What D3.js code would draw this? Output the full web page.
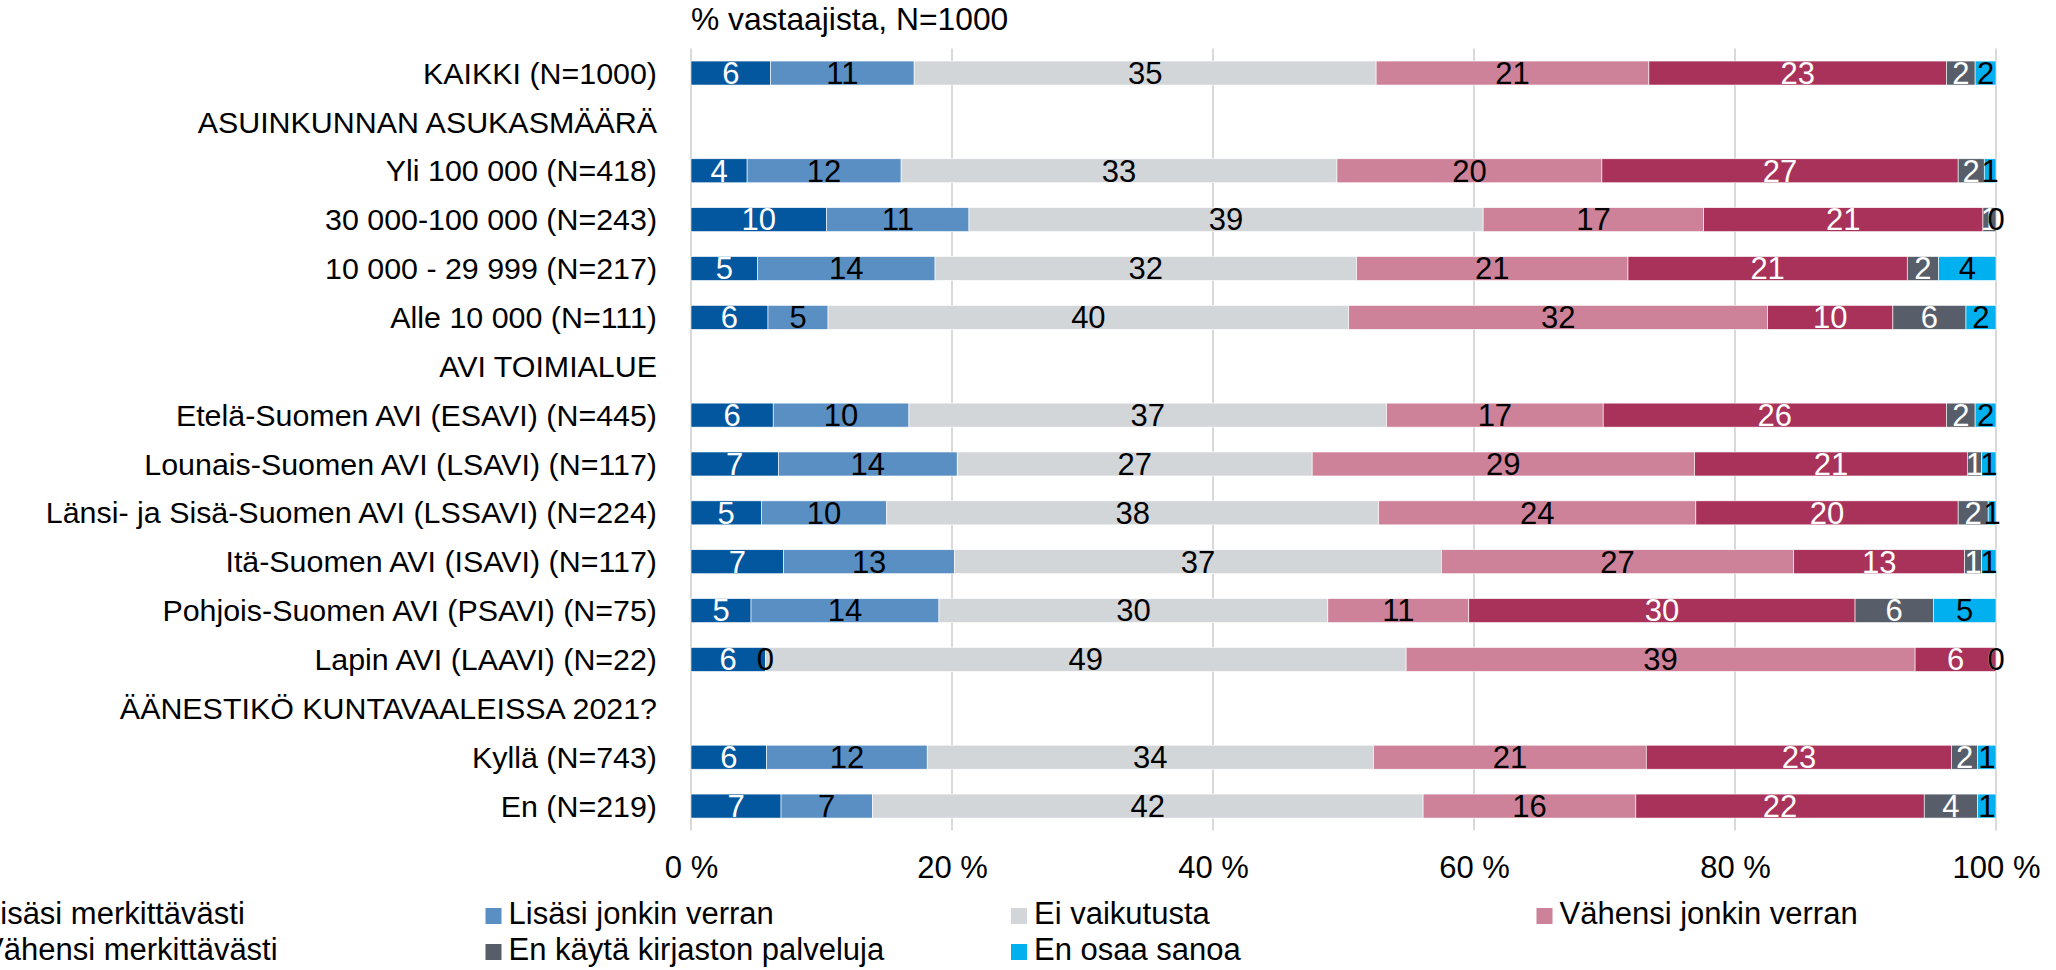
<!DOCTYPE html>
<html>
<head>
<meta charset="utf-8">
<script src="https://cdn.jsdelivr.net/npm/d3@7"></script>
<style>
  body { margin: 0; background: #fff; }
  text { font-family: "Liberation Sans", Arial, sans-serif; }
</style>
</head>
<body>
<div id="bar_chart"></div>
<script>
// rows of the chart, header rows have no data (null)
var categories = [
  "KAIKKI (N=1000)",
  "ASUINKUNNAN ASUKASMÄÄRÄ",
  "Yli 100 000 (N=418)",
  "30 000-100 000 (N=243)",
  "10 000 - 29 999 (N=217)",
  "Alle 10 000 (N=111)",
  "AVI TOIMIALUE",
  "Etelä-Suomen AVI (ESAVI) (N=445)",
  "Lounais-Suomen AVI  (LSAVI) (N=117)",
  "Länsi- ja Sisä-Suomen AVI (LSSAVI) (N=224)",
  "Itä-Suomen AVI (ISAVI)  (N=117)",
  "Pohjois-Suomen AVI (PSAVI) (N=75)",
  "Lapin AVI (LAAVI) (N=22)",
  "ÄÄNESTIKÖ KUNTAVAALEISSA 2021?",
  "Kyllä (N=743)",
  "En (N=219)"
];

var seriesNames = [
  "Lisäsi merkittävästi",
  "Lisäsi jonkin verran",
  "Ei vaikutusta",
  "Vähensi jonkin verran",
  "Vähensi merkittävästi",
  "En käytä kirjaston palveluja",
  "En osaa sanoa"
];

var lisasiMerkittavasti  = [6.1, null, 4.3, 10.4, 5.1, 5.9, null, 6.3, 6.7, 5.4, 7.1, 4.6, 5.7, null, 5.8, 6.9];
var lisasiJonkin         = [11.0, null, 11.8, 10.9, 13.6, 4.6, null, 10.4, 13.7, 9.6, 13.1, 14.4, 0, null, 12.3, 7.0];
var eiVaikutusta         = [35.4, null, 33.4, 39.4, 32.3, 39.9, null, 36.6, 27.2, 37.7, 37.3, 29.8, 49.1, null, 34.2, 42.2];
var vahensiJonkin        = [20.9, null, 20.3, 16.9, 20.8, 32.1, null, 16.6, 29.3, 24.3, 27.0, 10.8, 39.0, null, 20.9, 16.3];
var vahensiMerkittavasti = [22.8, null, 27.3, 21.4, 21.4, 9.6, null, 26.3, 20.9, 20.1, 13.1, 29.6, 6.2, null, 23.4, 22.1];
var enKayta              = [2.2, null, 2.0, 1.0, 2.4, 5.6, null, 2.2, 1.1, 2.3, 1.3, 6.0, 0, null, 2.0, 4.1];
var enOsaa               = [1.6, null, 0.9, 0, 4.4, 2.3, null, 1.6, 1.1, 0.6, 1.1, 4.8, 0, null, 1.4, 1.4];

var xTicks = [0, 20, 40, 60, 80, 100];
var titleText = "% vastaajista, N=1000";

var colors = ["#02579f", "#5a8fc4", "#d3d6d9", "#cd8299", "#a9325a", "#575e69", "#00b0ef"];
var labelColors = ["#fff", "#000", "#000", "#000", "#fff", "#fff", "#000"];

document.addEventListener('DOMContentLoaded', function() {
    generateBarChart();
}, false);

function generateBarChart() {
    var W = 2056, H = 970;
    var margin = {top: 48.6, left: 691, right: 60, bottom: 139.5};
    var width = W - margin.left - margin.right;
    var height = H - margin.top - margin.bottom;

    var svg = d3.select("#bar_chart")
      .append("svg")
        .attr("width", W)
        .attr("height", H);

    var g = svg.append("g")
        .attr("transform", "translate(" + margin.left + "," + margin.top + ")");

    // build stack input
    var allSeries = [lisasiMerkittavasti, lisasiJonkin, eiVaikutusta, vahensiJonkin,
                     vahensiMerkittavasti, enKayta, enOsaa];
    var rows = categories.map(function(c, i) {
        var r = {cat: c, empty: allSeries[0][i] === null};
        seriesNames.forEach(function(s, k) { r[s] = allSeries[k][i] || 0; });
        return r;
    });
    var stacked = d3.stack().keys(seriesNames)(rows.filter(function(r) { return !r.empty; }));

    // x
    var x = d3.scaleLinear().domain([0, 100]).range([0, width]);

    // y
    var y = d3.scaleBand()
      .domain(categories)
      .range([0, height])
      .paddingInner(0.509)
      .paddingOuter(0.2545);

    // gridlines
    g.append("g")
      .selectAll("line")
      .data(xTicks)
      .enter()
      .append("line")
        .attr("x1", function(d) { return x(d); })
        .attr("x2", function(d) { return x(d); })
        .attr("y1", 0)
        .attr("y2", height)
        .attr("stroke", "#d9d9d9")
        .attr("stroke-width", 2);

    // x axis labels
    var xAxis = g.append("g")
      .attr("transform", "translate(0," + height + ")")
      .call(d3.axisBottom(x).tickValues(xTicks).tickSize(0).tickPadding(0)
            .tickFormat(function(d) { return d + " %"; }));
    xAxis.select(".domain").remove();
    xAxis.selectAll("text")
      .attr("y", 867 - margin.top - height)
      .attr("dy", "0.35em")
      .style("font-size", "31px")
      .attr("fill", "#000");

    // category labels
    var yAxis = g.append("g")
      .call(d3.axisLeft(y).tickSize(0).tickPadding(34));
    yAxis.select(".domain").remove();
    yAxis.selectAll("text")
      .style("font-size", "30.4px")
      .attr("dy", "0.35em")
      .attr("fill", "#000");

    // bars
    var layers = g.selectAll(".layer")
      .data(stacked)
      .enter()
      .append("g")
        .attr("class", "layer")
        .attr("fill", function(d, i) { return colors[i]; });

    layers.selectAll("rect")
      .data(function(d) { return d; })
      .enter()
      .append("rect")
        .attr("x", function(d) { return x(d[0]); })
        .attr("y", function(d) { return y(d.data.cat); })
        .attr("width", function(d) { return x(d[1]) - x(d[0]); })
        .attr("height", y.bandwidth())
        .attr("stroke", "#fff")
        .attr("stroke-width", 0.6);

    // value labels, drawn on top of all bars
    var labels = g.selectAll(".labels")
      .data(stacked)
      .enter()
      .append("g")
        .attr("class", "labels");

    labels.selectAll("text")
      .data(function(d, i) { return d.map(function(p) { p.k = i; return p; }); })
      .enter()
      .append("text")
        .attr("x", function(d) { return x((d[0] + d[1]) / 2); })
        .attr("y", function(d) { return y(d.data.cat) + y.bandwidth() / 2; })
        .attr("dy", "0.35em")
        .attr("text-anchor", "middle")
        .style("font-size", "31px")
        .attr("fill", function(d) { return labelColors[d.k]; })
        .text(function(d) { return Math.round(d[1] - d[0]); });

    // title
    svg.append("text")
      .attr("x", margin.left)
      .attr("y", 30)
      .style("font-size", "31.8px")
      .attr("fill", "#000")
      .text(titleText);

    // legend, 4 columns
    var colW = 525.5, col0 = -40, rowBase = [924, 960];
    var legend = svg.selectAll(".legend")
      .data(seriesNames)
      .enter()
      .append("g")
        .attr("class", "legend")
        .attr("transform", function(d, i) {
            return "translate(" + (col0 + (i % 4) * colW) + "," + rowBase[Math.floor(i / 4)] + ")";
        });
    legend.append("rect")
      .attr("x", 0)
      .attr("y", -16)
      .attr("width", 16)
      .attr("height", 16)
      .attr("fill", function(d, i) { return colors[i]; });
    legend.append("text")
      .attr("x", 23)
      .attr("y", 0)
      .style("font-size", "31px")
      .attr("fill", "#000")
      .text(function(d) { return d; });
}
</script>
</body>
</html>
